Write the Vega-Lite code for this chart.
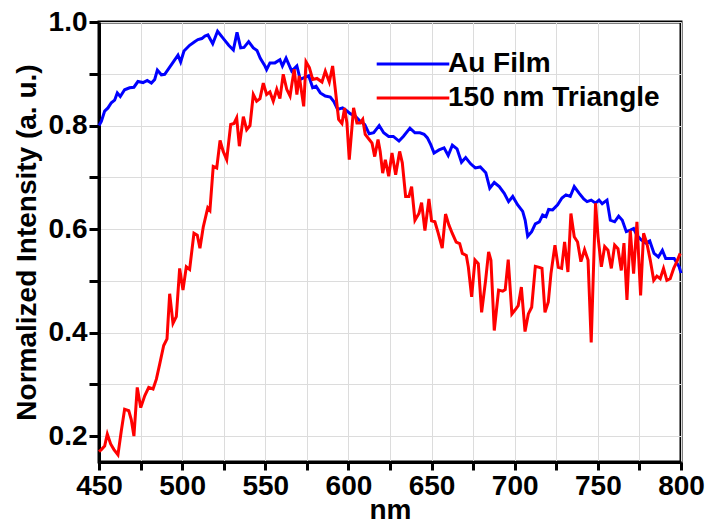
{
  "$schema": "https://vega.github.io/schema/vega-lite/v6.json",
  "width": 582,
  "height": 440,
  "autosize": "none",
  "padding": {"left": 99, "top": 22, "right": 24, "bottom": 61},
  "data": {"values": [
    {"s":"Au Film","nm":450,"v":0.800},{"s":"Au Film","nm":451.4,"v":0.808},{"s":"Au Film","nm":453.4,"v":0.828},{"s":"Au Film","nm":455.4,"v":0.834},{"s":"Au Film","nm":457.4,"v":0.844},{"s":"Au Film","nm":459.4,"v":0.849},{"s":"Au Film","nm":461,"v":0.863},{"s":"Au Film","nm":462.8,"v":0.856},{"s":"Au Film","nm":465.4,"v":0.869},{"s":"Au Film","nm":468.4,"v":0.873},{"s":"Au Film","nm":471,"v":0.874},{"s":"Au Film","nm":473.4,"v":0.885},{"s":"Au Film","nm":476.5,"v":0.883},{"s":"Au Film","nm":479,"v":0.887},{"s":"Au Film","nm":481.5,"v":0.882},{"s":"Au Film","nm":483.5,"v":0.889},{"s":"Au Film","nm":485.1,"v":0.907},{"s":"Au Film","nm":487.5,"v":0.898},{"s":"Au Film","nm":489.5,"v":0.899},{"s":"Au Film","nm":491.9,"v":0.910},{"s":"Au Film","nm":494.5,"v":0.922},{"s":"Au Film","nm":497.5,"v":0.936},{"s":"Au Film","nm":499.1,"v":0.923},{"s":"Au Film","nm":501.1,"v":0.944},{"s":"Au Film","nm":504.5,"v":0.955},{"s":"Au Film","nm":507.5,"v":0.962},{"s":"Au Film","nm":509.5,"v":0.966},{"s":"Au Film","nm":511.8,"v":0.968},{"s":"Au Film","nm":513.7,"v":0.973},{"s":"Au Film","nm":515.5,"v":0.975},{"s":"Au Film","nm":518.4,"v":0.958},{"s":"Au Film","nm":521.3,"v":0.982},{"s":"Au Film","nm":525.3,"v":0.966},{"s":"Au Film","nm":528,"v":0.955},{"s":"Au Film","nm":530.8,"v":0.946},{"s":"Au Film","nm":533,"v":0.980},{"s":"Au Film","nm":535.2,"v":0.950},{"s":"Au Film","nm":537.2,"v":0.951},{"s":"Au Film","nm":540,"v":0.962},{"s":"Au Film","nm":542.8,"v":0.950},{"s":"Au Film","nm":545,"v":0.945},{"s":"Au Film","nm":547,"v":0.930},{"s":"Au Film","nm":549.8,"v":0.915},{"s":"Au Film","nm":550.8,"v":0.908},{"s":"Au Film","nm":552.8,"v":0.921},{"s":"Au Film","nm":555.8,"v":0.921},{"s":"Au Film","nm":558.8,"v":0.927},{"s":"Au Film","nm":560.3,"v":0.915},{"s":"Au Film","nm":562.5,"v":0.930},{"s":"Au Film","nm":565.9,"v":0.905},{"s":"Au Film","nm":569,"v":0.915},{"s":"Au Film","nm":571,"v":0.889},{"s":"Au Film","nm":573.7,"v":0.893},{"s":"Au Film","nm":576.1,"v":0.896},{"s":"Au Film","nm":578.5,"v":0.873},{"s":"Au Film","nm":580.5,"v":0.876},{"s":"Au Film","nm":583.1,"v":0.863},{"s":"Au Film","nm":586.1,"v":0.857},{"s":"Au Film","nm":589.1,"v":0.855},{"s":"Au Film","nm":591.1,"v":0.847},{"s":"Au Film","nm":593.5,"v":0.831},{"s":"Au Film","nm":596.5,"v":0.834},{"s":"Au Film","nm":599.1,"v":0.828},{"s":"Au Film","nm":601.1,"v":0.823},{"s":"Au Film","nm":604.1,"v":0.818},{"s":"Au Film","nm":607.1,"v":0.808},{"s":"Au Film","nm":609.8,"v":0.802},{"s":"Au Film","nm":612.5,"v":0.784},{"s":"Au Film","nm":615.2,"v":0.786},{"s":"Au Film","nm":618.5,"v":0.800},{"s":"Au Film","nm":621.2,"v":0.786},{"s":"Au Film","nm":624.2,"v":0.779},{"s":"Au Film","nm":627,"v":0.779},{"s":"Au Film","nm":630.4,"v":0.770},{"s":"Au Film","nm":633,"v":0.779},{"s":"Au Film","nm":637,"v":0.795},{"s":"Au Film","nm":640,"v":0.786},{"s":"Au Film","nm":643,"v":0.786},{"s":"Au Film","nm":645.5,"v":0.783},{"s":"Au Film","nm":647.5,"v":0.776},{"s":"Au Film","nm":649.5,"v":0.763},{"s":"Au Film","nm":651.5,"v":0.747},{"s":"Au Film","nm":654.5,"v":0.753},{"s":"Au Film","nm":657.5,"v":0.757},{"s":"Au Film","nm":660,"v":0.742},{"s":"Au Film","nm":662.5,"v":0.762},{"s":"Au Film","nm":665.3,"v":0.755},{"s":"Au Film","nm":668,"v":0.729},{"s":"Au Film","nm":670.5,"v":0.738},{"s":"Au Film","nm":673.5,"v":0.726},{"s":"Au Film","nm":676.3,"v":0.718},{"s":"Au Film","nm":679.3,"v":0.720},{"s":"Au Film","nm":682.6,"v":0.709},{"s":"Au Film","nm":685,"v":0.679},{"s":"Au Film","nm":687.7,"v":0.690},{"s":"Au Film","nm":690.7,"v":0.682},{"s":"Au Film","nm":693.7,"v":0.669},{"s":"Au Film","nm":696.3,"v":0.653},{"s":"Au Film","nm":698.8,"v":0.663},{"s":"Au Film","nm":701.7,"v":0.647},{"s":"Au Film","nm":704.8,"v":0.634},{"s":"Au Film","nm":706.3,"v":0.617},{"s":"Au Film","nm":707.8,"v":0.586},{"s":"Au Film","nm":710.2,"v":0.595},{"s":"Au Film","nm":712.4,"v":0.610},{"s":"Au Film","nm":714.8,"v":0.614},{"s":"Au Film","nm":716.8,"v":0.627},{"s":"Au Film","nm":718.8,"v":0.624},{"s":"Au Film","nm":720.4,"v":0.638},{"s":"Au Film","nm":722.8,"v":0.637},{"s":"Au Film","nm":725.8,"v":0.647},{"s":"Au Film","nm":728.4,"v":0.660},{"s":"Au Film","nm":730.8,"v":0.666},{"s":"Au Film","nm":733.4,"v":0.663},{"s":"Au Film","nm":735.8,"v":0.682},{"s":"Au Film","nm":738.8,"v":0.669},{"s":"Au Film","nm":741.5,"v":0.658},{"s":"Au Film","nm":743.5,"v":0.653},{"s":"Au Film","nm":746,"v":0.656},{"s":"Au Film","nm":748.6,"v":0.650},{"s":"Au Film","nm":750.7,"v":0.656},{"s":"Au Film","nm":752.6,"v":0.649},{"s":"Au Film","nm":755.5,"v":0.656},{"s":"Au Film","nm":757.5,"v":0.617},{"s":"Au Film","nm":760.1,"v":0.614},{"s":"Au Film","nm":762.5,"v":0.625},{"s":"Au Film","nm":764.7,"v":0.617},{"s":"Au Film","nm":767.1,"v":0.595},{"s":"Au Film","nm":769.5,"v":0.598},{"s":"Au Film","nm":771.5,"v":0.601},{"s":"Au Film","nm":773.5,"v":0.588},{"s":"Au Film","nm":776.1,"v":0.579},{"s":"Au Film","nm":778.7,"v":0.573},{"s":"Au Film","nm":781.2,"v":0.577},{"s":"Au Film","nm":783.8,"v":0.553},{"s":"Au Film","nm":786.4,"v":0.546},{"s":"Au Film","nm":788.8,"v":0.559},{"s":"Au Film","nm":790.8,"v":0.543},{"s":"Au Film","nm":793.2,"v":0.543},{"s":"Au Film","nm":795.9,"v":0.543},{"s":"Au Film","nm":798.9,"v":0.527},{"s":"Au Film","nm":800,"v":0.515},
    {"s":"150 nm Triangle","nm":450,"v":0.170},{"s":"150 nm Triangle","nm":451.4,"v":0.174},{"s":"150 nm Triangle","nm":453.4,"v":0.181},{"s":"150 nm Triangle","nm":455,"v":0.204},{"s":"150 nm Triangle","nm":457,"v":0.185},{"s":"150 nm Triangle","nm":459,"v":0.174},{"s":"150 nm Triangle","nm":461.4,"v":0.164},{"s":"150 nm Triangle","nm":463.4,"v":0.210},{"s":"150 nm Triangle","nm":465.4,"v":0.252},{"s":"150 nm Triangle","nm":467.9,"v":0.249},{"s":"150 nm Triangle","nm":469.4,"v":0.232},{"s":"150 nm Triangle","nm":471,"v":0.200},{"s":"150 nm Triangle","nm":473,"v":0.294},{"s":"150 nm Triangle","nm":475.1,"v":0.255},{"s":"150 nm Triangle","nm":477.5,"v":0.278},{"s":"150 nm Triangle","nm":479.9,"v":0.294},{"s":"150 nm Triangle","nm":482.5,"v":0.291},{"s":"150 nm Triangle","nm":484.5,"v":0.310},{"s":"150 nm Triangle","nm":486.5,"v":0.339},{"s":"150 nm Triangle","nm":488.9,"v":0.375},{"s":"150 nm Triangle","nm":490.9,"v":0.388},{"s":"150 nm Triangle","nm":492.5,"v":0.475},{"s":"150 nm Triangle","nm":494.5,"v":0.418},{"s":"150 nm Triangle","nm":496.5,"v":0.431},{"s":"150 nm Triangle","nm":498.5,"v":0.524},{"s":"150 nm Triangle","nm":500.5,"v":0.482},{"s":"150 nm Triangle","nm":502.5,"v":0.527},{"s":"150 nm Triangle","nm":504.5,"v":0.522},{"s":"150 nm Triangle","nm":507.1,"v":0.592},{"s":"150 nm Triangle","nm":509.1,"v":0.588},{"s":"150 nm Triangle","nm":510.7,"v":0.563},{"s":"150 nm Triangle","nm":512.7,"v":0.604},{"s":"150 nm Triangle","nm":515.4,"v":0.641},{"s":"150 nm Triangle","nm":516.7,"v":0.636},{"s":"150 nm Triangle","nm":518.7,"v":0.721},{"s":"150 nm Triangle","nm":520.8,"v":0.718},{"s":"150 nm Triangle","nm":522.8,"v":0.771},{"s":"150 nm Triangle","nm":524.7,"v":0.750},{"s":"150 nm Triangle","nm":526.8,"v":0.734},{"s":"150 nm Triangle","nm":529.2,"v":0.802},{"s":"150 nm Triangle","nm":531.2,"v":0.804},{"s":"150 nm Triangle","nm":532.8,"v":0.815},{"s":"150 nm Triangle","nm":534.4,"v":0.760},{"s":"150 nm Triangle","nm":536.8,"v":0.817},{"s":"150 nm Triangle","nm":538.8,"v":0.792},{"s":"150 nm Triangle","nm":540.8,"v":0.800},{"s":"150 nm Triangle","nm":542.8,"v":0.860},{"s":"150 nm Triangle","nm":544.8,"v":0.847},{"s":"150 nm Triangle","nm":546.8,"v":0.852},{"s":"150 nm Triangle","nm":548.8,"v":0.882},{"s":"150 nm Triangle","nm":550.8,"v":0.860},{"s":"150 nm Triangle","nm":552.8,"v":0.865},{"s":"150 nm Triangle","nm":554.8,"v":0.847},{"s":"150 nm Triangle","nm":556.9,"v":0.870},{"s":"150 nm Triangle","nm":558.8,"v":0.852},{"s":"150 nm Triangle","nm":560.8,"v":0.899},{"s":"150 nm Triangle","nm":562.9,"v":0.870},{"s":"150 nm Triangle","nm":564.9,"v":0.857},{"s":"150 nm Triangle","nm":567.4,"v":0.909},{"s":"150 nm Triangle","nm":569,"v":0.860},{"s":"150 nm Triangle","nm":570.4,"v":0.896},{"s":"150 nm Triangle","nm":573.1,"v":0.837},{"s":"150 nm Triangle","nm":574.5,"v":0.923},{"s":"150 nm Triangle","nm":576.5,"v":0.912},{"s":"150 nm Triangle","nm":578.5,"v":0.889},{"s":"150 nm Triangle","nm":581.1,"v":0.891},{"s":"150 nm Triangle","nm":584.1,"v":0.884},{"s":"150 nm Triangle","nm":586.1,"v":0.905},{"s":"150 nm Triangle","nm":588.5,"v":0.884},{"s":"150 nm Triangle","nm":590.5,"v":0.915},{"s":"150 nm Triangle","nm":592.1,"v":0.870},{"s":"150 nm Triangle","nm":594.1,"v":0.812},{"s":"150 nm Triangle","nm":596.1,"v":0.804},{"s":"150 nm Triangle","nm":597.7,"v":0.834},{"s":"150 nm Triangle","nm":599.1,"v":0.805},{"s":"150 nm Triangle","nm":600.5,"v":0.734},{"s":"150 nm Triangle","nm":603.1,"v":0.834},{"s":"150 nm Triangle","nm":605.1,"v":0.805},{"s":"150 nm Triangle","nm":607.1,"v":0.805},{"s":"150 nm Triangle","nm":608.6,"v":0.812},{"s":"150 nm Triangle","nm":610.1,"v":0.783},{"s":"150 nm Triangle","nm":612.5,"v":0.773},{"s":"150 nm Triangle","nm":614.2,"v":0.766},{"s":"150 nm Triangle","nm":615.8,"v":0.740},{"s":"150 nm Triangle","nm":617.8,"v":0.773},{"s":"150 nm Triangle","nm":619.1,"v":0.750},{"s":"150 nm Triangle","nm":620.6,"v":0.708},{"s":"150 nm Triangle","nm":622.2,"v":0.734},{"s":"150 nm Triangle","nm":624.2,"v":0.702},{"s":"150 nm Triangle","nm":626.2,"v":0.747},{"s":"150 nm Triangle","nm":628.4,"v":0.705},{"s":"150 nm Triangle","nm":630.8,"v":0.750},{"s":"150 nm Triangle","nm":632.4,"v":0.728},{"s":"150 nm Triangle","nm":634.4,"v":0.663},{"s":"150 nm Triangle","nm":636.4,"v":0.663},{"s":"150 nm Triangle","nm":638,"v":0.682},{"s":"150 nm Triangle","nm":640,"v":0.617},{"s":"150 nm Triangle","nm":642.4,"v":0.630},{"s":"150 nm Triangle","nm":644,"v":0.651},{"s":"150 nm Triangle","nm":646,"v":0.597},{"s":"150 nm Triangle","nm":648.4,"v":0.658},{"s":"150 nm Triangle","nm":650,"v":0.616},{"s":"150 nm Triangle","nm":652,"v":0.614},{"s":"150 nm Triangle","nm":654,"v":0.592},{"s":"150 nm Triangle","nm":656.4,"v":0.563},{"s":"150 nm Triangle","nm":658.4,"v":0.629},{"s":"150 nm Triangle","nm":660.4,"v":0.608},{"s":"150 nm Triangle","nm":662.4,"v":0.592},{"s":"150 nm Triangle","nm":664.8,"v":0.575},{"s":"150 nm Triangle","nm":666.9,"v":0.572},{"s":"150 nm Triangle","nm":668.5,"v":0.553},{"s":"150 nm Triangle","nm":670.9,"v":0.549},{"s":"150 nm Triangle","nm":672.1,"v":0.527},{"s":"150 nm Triangle","nm":674.1,"v":0.469},{"s":"150 nm Triangle","nm":676.1,"v":0.540},{"s":"150 nm Triangle","nm":678.1,"v":0.533},{"s":"150 nm Triangle","nm":680.1,"v":0.439},{"s":"150 nm Triangle","nm":682.5,"v":0.501},{"s":"150 nm Triangle","nm":684.3,"v":0.556},{"s":"150 nm Triangle","nm":685.7,"v":0.540},{"s":"150 nm Triangle","nm":687.7,"v":0.404},{"s":"150 nm Triangle","nm":690.3,"v":0.482},{"s":"150 nm Triangle","nm":692.8,"v":0.480},{"s":"150 nm Triangle","nm":694.3,"v":0.483},{"s":"150 nm Triangle","nm":696.1,"v":0.541},{"s":"150 nm Triangle","nm":698.3,"v":0.436},{"s":"150 nm Triangle","nm":700.3,"v":0.444},{"s":"150 nm Triangle","nm":702.1,"v":0.452},{"s":"150 nm Triangle","nm":704,"v":0.488},{"s":"150 nm Triangle","nm":706.2,"v":0.402},{"s":"150 nm Triangle","nm":708.2,"v":0.436},{"s":"150 nm Triangle","nm":710.2,"v":0.449},{"s":"150 nm Triangle","nm":712.4,"v":0.528},{"s":"150 nm Triangle","nm":714.8,"v":0.526},{"s":"150 nm Triangle","nm":716.4,"v":0.524},{"s":"150 nm Triangle","nm":718.2,"v":0.439},{"s":"150 nm Triangle","nm":720.2,"v":0.459},{"s":"150 nm Triangle","nm":721.8,"v":0.514},{"s":"150 nm Triangle","nm":724.2,"v":0.569},{"s":"150 nm Triangle","nm":726.2,"v":0.526},{"s":"150 nm Triangle","nm":728.2,"v":0.524},{"s":"150 nm Triangle","nm":730,"v":0.575},{"s":"150 nm Triangle","nm":732,"v":0.517},{"s":"150 nm Triangle","nm":733.8,"v":0.630},{"s":"150 nm Triangle","nm":735.8,"v":0.585},{"s":"150 nm Triangle","nm":737.8,"v":0.575},{"s":"150 nm Triangle","nm":739.8,"v":0.537},{"s":"150 nm Triangle","nm":742,"v":0.560},{"s":"150 nm Triangle","nm":744.1,"v":0.540},{"s":"150 nm Triangle","nm":746,"v":0.381},{"s":"150 nm Triangle","nm":748.6,"v":0.650},{"s":"150 nm Triangle","nm":750.1,"v":0.585},{"s":"150 nm Triangle","nm":752.1,"v":0.527},{"s":"150 nm Triangle","nm":754.1,"v":0.566},{"s":"150 nm Triangle","nm":756.1,"v":0.559},{"s":"150 nm Triangle","nm":758.1,"v":0.524},{"s":"150 nm Triangle","nm":760.1,"v":0.569},{"s":"150 nm Triangle","nm":762.1,"v":0.562},{"s":"150 nm Triangle","nm":764.1,"v":0.520},{"s":"150 nm Triangle","nm":765.7,"v":0.573},{"s":"150 nm Triangle","nm":767.5,"v":0.463},{"s":"150 nm Triangle","nm":769.5,"v":0.597},{"s":"150 nm Triangle","nm":771.5,"v":0.514},{"s":"150 nm Triangle","nm":773.5,"v":0.614},{"s":"150 nm Triangle","nm":775.7,"v":0.472},{"s":"150 nm Triangle","nm":777.5,"v":0.592},{"s":"150 nm Triangle","nm":779.5,"v":0.572},{"s":"150 nm Triangle","nm":781.5,"v":0.540},{"s":"150 nm Triangle","nm":783.6,"v":0.501},{"s":"150 nm Triangle","nm":785.5,"v":0.509},{"s":"150 nm Triangle","nm":787.5,"v":0.504},{"s":"150 nm Triangle","nm":789.5,"v":0.524},{"s":"150 nm Triangle","nm":791.5,"v":0.501},{"s":"150 nm Triangle","nm":793.5,"v":0.504},{"s":"150 nm Triangle","nm":795.6,"v":0.524},{"s":"150 nm Triangle","nm":797.5,"v":0.537},{"s":"150 nm Triangle","nm":799.5,"v":0.553}
  ]},
  "mark": {"type": "line", "strokeWidth": 3},
  "encoding": {
    "x": {"field": "nm", "type": "quantitative", "scale": {"domain": [450, 800], "nice": false},
      "axis": {"title": "nm", "values": [450,475,500,525,550,575,600,625,650,675,700,725,750,775,800],
        "labelExpr": "datum.value % 50 == 0 ? datum.label : ''", "labelFlush": false,
        "tickSize": 8, "tickColor": "#000000", "tickWidth": 3,
        "domainColor": "#000000", "domainWidth": 3,
        "grid": true, "gridColor": "#dcdcdc",
        "labelFont": "Liberation Sans", "labelFontWeight": "bold", "labelFontSize": 28, "labelColor": "black", "labelPadding": 2,
        "titleFont": "Liberation Sans", "titleFontWeight": "bold", "titleFontSize": 28, "titleColor": "black", "titlePadding": -4}},
    "y": {"field": "v", "type": "quantitative", "scale": {"domain": [0.15, 1.0], "nice": false, "zero": false},
      "axis": {"title": "Normalized Intensity (a. u.)", "values": [0.2,0.3,0.4,0.5,0.6,0.7,0.8,0.9,1.0],
        "labelExpr": "round(datum.value*10) % 2 == 0 ? format(datum.value, '.1f') : ''",
        "tickSize": 10, "tickColor": "#000000", "tickWidth": 3,
        "domainColor": "#000000", "domainWidth": 3,
        "grid": true, "gridColor": "#dcdcdc",
        "labelFont": "Liberation Sans", "labelFontWeight": "bold", "labelFontSize": 28, "labelColor": "black", "labelPadding": 2,
        "titleFont": "Liberation Sans", "titleFontWeight": "bold", "titleFontSize": 28, "titleColor": "black", "titlePadding": 7}},
    "color": {"field": "s", "type": "nominal", "sort": ["Au Film", "150 nm Triangle"],
      "scale": {"domain": ["Au Film", "150 nm Triangle"], "range": ["#0000ff", "#ff0000"]},
      "legend": {"title": null, "orient": "none", "legendX": 300, "legendY": 28,
        "symbolType": "M-3.3,0H3.3", "symbolSize": 484, "symbolStrokeWidth": 3,
        "labelFont": "Liberation Sans", "labelFontWeight": "bold", "labelFontSize": 28, "labelColor": "black",
        "labelOffset": 21, "rowPadding": 6, "labelLimit": 400, "padding": 0}}
  },
  "config": {
    "view": {"stroke": "black", "strokeWidth": 3}
  }
}
